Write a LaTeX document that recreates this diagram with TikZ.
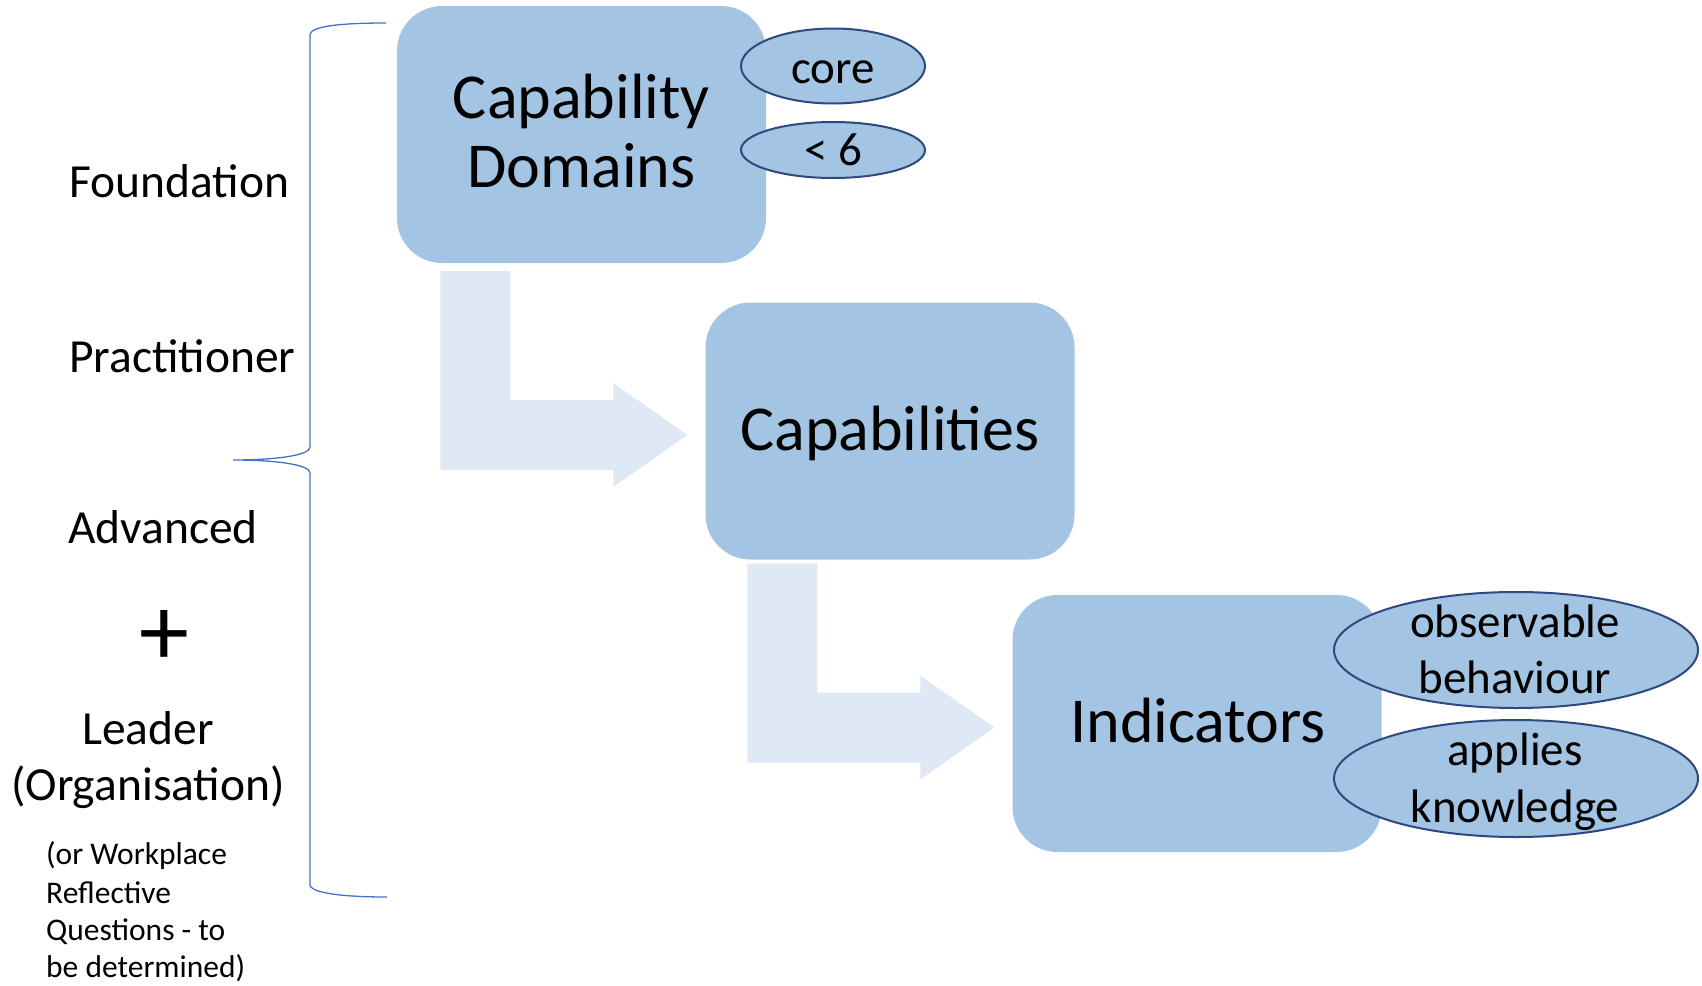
\documentclass[tikz,border=0pt]{standalone}
\usepackage{fontspec}
\setmainfont{Carlito}
\usetikzlibrary{shapes.geometric,calc}
\definecolor{boxblue}{RGB}{163,196,226}
\definecolor{arrowblue}{RGB}{223,233,245}
\definecolor{ovalline}{RGB}{47,72,128}
\definecolor{bracecol}{RGB}{68,114,196}
\begin{document}
\begin{tikzpicture}[x=1pt,y=-1pt,
  stepbox/.style={draw=none,fill=boxblue,rounded corners=45pt,
    minimum width=369pt,minimum height=257pt,inner sep=0pt},
  oval/.style={ellipse,draw=ovalline,line width=2pt,fill=boxblue,
    minimum width=184pt,inner sep=0pt},
  bigtext/.style={inner sep=0pt,anchor=base,font=\fontsize{64}{70}\selectfont},
  ovaltext/.style={inner sep=0pt,anchor=base,font=\fontsize{47}{56}\selectfont},
  leveltext/.style={inner sep=0pt,anchor=base west,font=\fontsize{47.5}{56}\selectfont},
  notetext/.style={inner sep=0pt,anchor=base west,font=\fontsize{31.5}{37}\selectfont},
  pics/bentarrow/.style={code={
    \fill[arrowblue] (0,0) -- (70,0) -- (70,129) -- (173,129) -- (173,112)
      -- (247,164) -- (173,216) -- (173,199) -- (0,199) -- cycle;}}
]
\useasboundingbox (0,0) rectangle (1702,985);

% level boxes
\node[stepbox] (domains) at (581.5,134.5) {};
\node[stepbox] (caps) at (890,431) {};
\node[stepbox] (inds) at (1197,723.5) {};

% bent arrows leading into the next level
\pic at ($(caps.west)+(-265,-160)$) {bentarrow};
\pic at ($(inds.west)+(-265,-160)$) {bentarrow};

% side ovals
\node[oval,minimum height=75pt] (core) at (833,66) {};
\node[oval,minimum height=56pt] (lt6) at (833,150) {};
\node[oval,minimum width=364pt,minimum height=116pt] (obs) at (1516,650) {};
\node[oval,minimum width=364pt,minimum height=117pt] (app) at (1516,778.5) {};

% box and oval labels
\node[bigtext] (domains1) at (581.5,118) {Capability};
\node[bigtext] (domains2) at (581.5,187) {Domains};
\node[bigtext] (capstext) at (890,450) {Capabilities};
\node[bigtext] (indstext) at (1198,742) {Indicators};
\node[ovaltext] (coretext) at (833,83) {core};
\node[ovaltext] (lt6text) at (833,165) {< 6};
\node[ovaltext] (obs1) at (1515,637) {observable};
\node[ovaltext] (obs2) at (1515,693) {behaviour};
\node[ovaltext] (app1) at (1515,765) {applies};
\node[ovaltext] (app2) at (1515,822) {knowledge};

% brace grouping the levels
\draw[bracecol,line width=1.3pt]
  (386,23) .. controls (335,23) and (310,27) .. (310,35)
  -- (310,447) .. controls (310,456) and (272,460) .. (233,460)
  .. controls (272,460) and (310,464) .. (310,473)
  -- (310,885) .. controls (310,891) and (332,897) .. (387,897);

% level names
\node[leveltext] (found) at (69,197) {Foundation};
\node[leveltext] (pract) at (69,372) {Practitioner};
\node[leveltext] (adv) at (68,543) {Advanced};
\node[inner sep=0pt,font=\fontsize{100}{100}\selectfont] (plus) at (164.7,638) {+};
\node[leveltext,anchor=base] (lead1) at (148,744) {Leader};
\node[leveltext,anchor=base] (lead2) at (148,800) {(Organisation)};
\node[notetext] (note1) at (46,864) {(or Workplace};
\node[notetext] (note2) at (46,903) {Reflective};
\node[notetext] (note3) at (46,940) {Questions - to};
\node[notetext] (note4) at (46,977) {be determined)};
\end{tikzpicture}
\end{document}
